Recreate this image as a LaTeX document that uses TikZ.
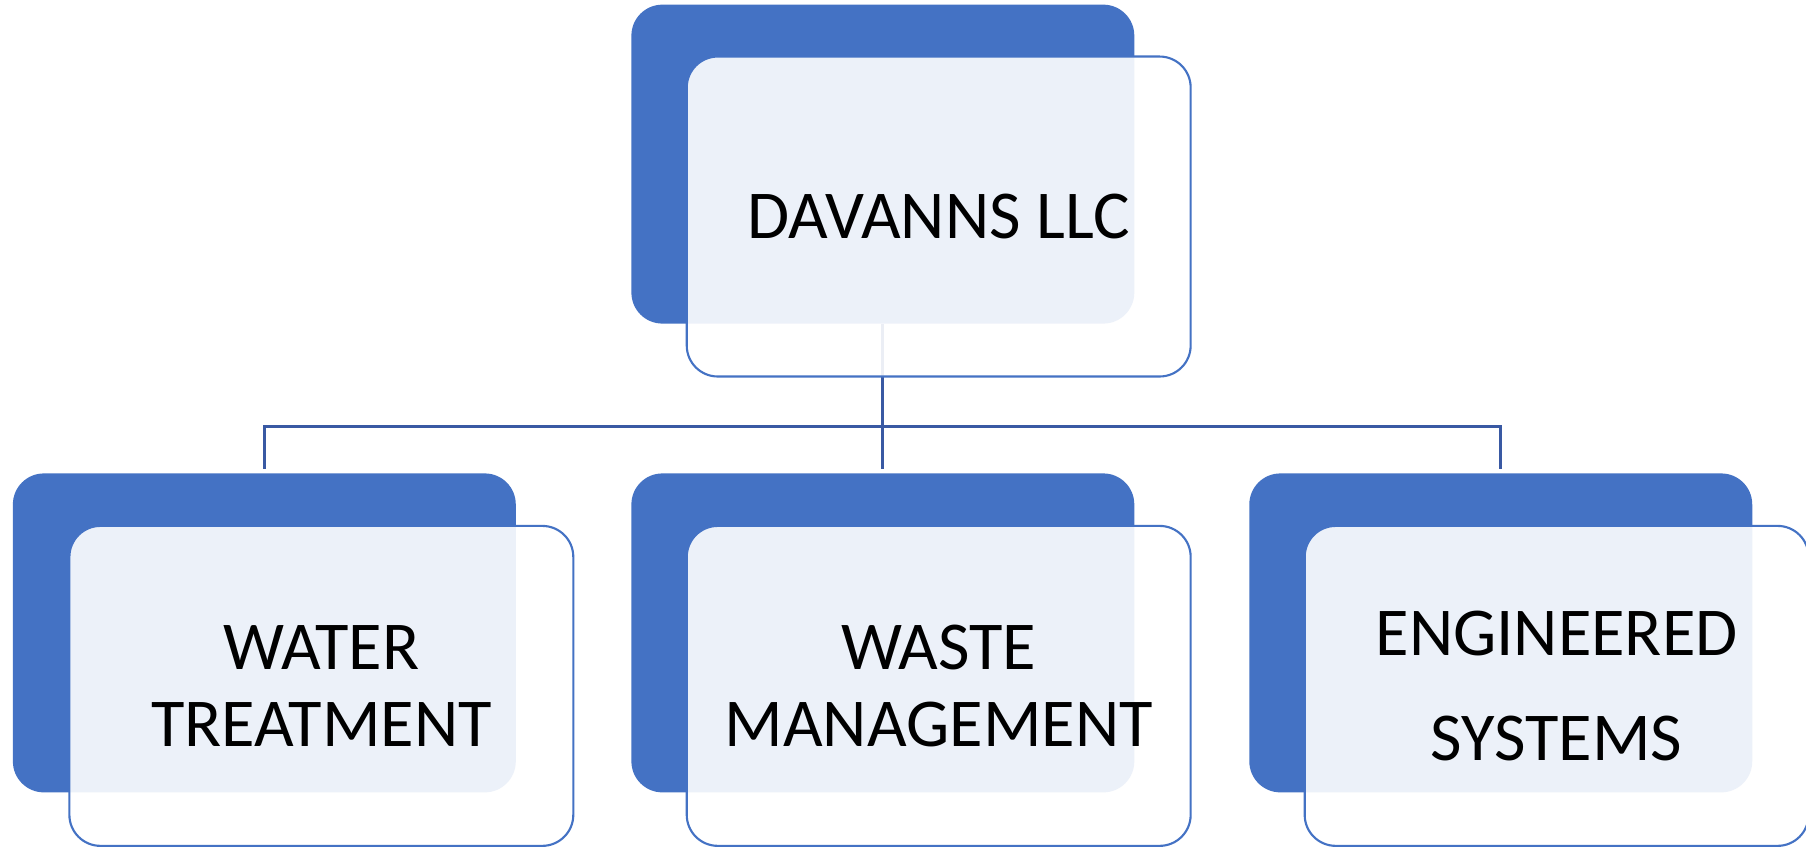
\documentclass[tikz,border=0pt]{standalone}
\usepackage{fontspec}
\setmainfont{Carlito}
\definecolor{backblue}{RGB}{68,114,196}
\definecolor{linkblue}{RGB}{57,89,163}
\begin{document}
\begin{tikzpicture}[x=0.011518cm,y=-0.011518cm,
    backbox/.style={rectangle,rounded corners=0.31cm,fill=backblue,
      minimum width=5.03cm,minimum height=3.19cm,inner sep=0pt},
    frontbox/.style={rectangle,rounded corners=0.31cm,draw=backblue,line width=0.6pt,
      fill=white,fill opacity=0.9,text opacity=1,minimum width=5.04cm,minimum height=3.2cm,
      inner sep=0pt,align=center,font=\fontsize{19.5}{22}\selectfont},
    link/.style={draw=linkblue,line width=0.8pt}]
  \useasboundingbox[fill=white] (0,0) rectangle (1568,735);
  \clip (0,0) rectangle (1568,735);
  % back boxes
  \node[backbox] (topback) at (766.5,142.5) {};
  \node[backbox] (waterback) at (229.5,549.5) {};
  \node[backbox] (wasteback) at (766.5,549.5) {};
  \node[backbox] (engback) at (1303,549.5) {};
  % connectors
  \coordinate (bus) at (766.5,370);
  \draw[link] (topback.south) -- (bus);
  \foreach \child in {waterback,wasteback,engback}
    \draw[link,shorten >=1pt] (bus) -| (\child.north);
  % front boxes
  \node[frontbox] (davanns) at ([shift={(48.5,45.5)}]topback.center) {DAVANNS LLC};
  \node[frontbox] (water) at ([shift={(49.5,46)}]waterback.center) {WATER\\TREATMENT};
  \node[frontbox] (waste) at ([shift={(48.5,46)}]wasteback.center) {WASTE\\MANAGEMENT};
  \node[frontbox,font=\fontsize{19.5}{30}\selectfont] (eng) at ([shift={(48.5,46)}]engback.center) {ENGINEERED\\SYSTEMS};
\end{tikzpicture}
\end{document}
